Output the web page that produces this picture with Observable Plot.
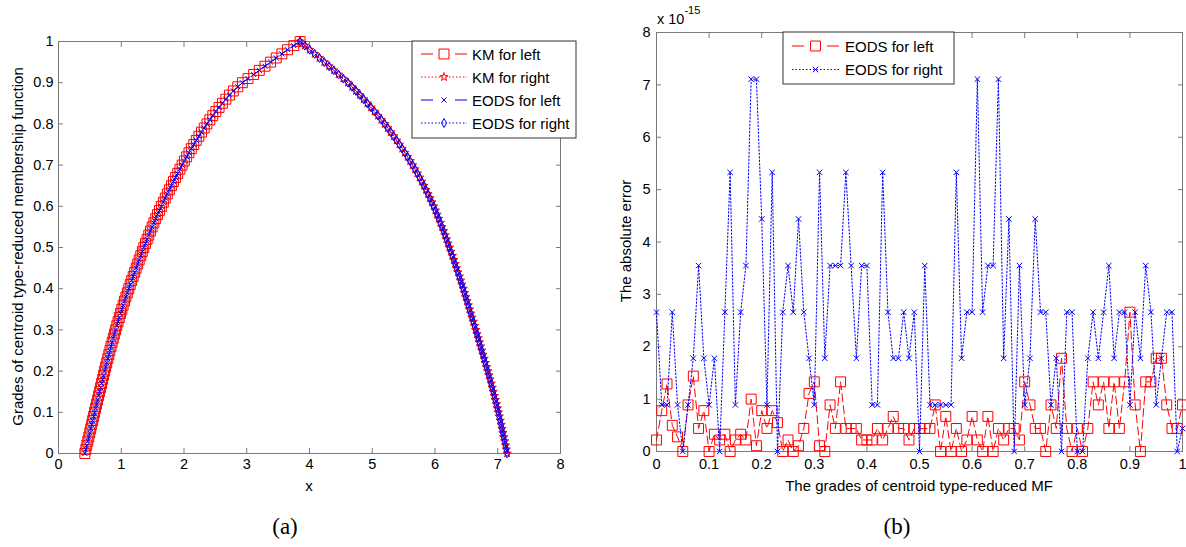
<!DOCTYPE html>
<html><head><meta charset="utf-8">
<script src="https://cdn.jsdelivr.net/npm/d3@7"></script>
<script src="https://cdn.jsdelivr.net/npm/@observablehq/plot@0.6"></script>
<style>
body{margin:0;background:#fff;}
#wrap{position:relative;width:1186px;height:547px;overflow:hidden;background:#fff;font-family:"Liberation Sans",Arial,sans-serif;}
.abs{position:absolute;top:0;}
</style></head><body><div id="wrap"></div>
<script>
// ---------- DATA ----------
const grades = [0,0.01,0.02,0.03,0.04,0.05,0.06,0.07,0.08,0.09,
0.1,0.11,0.12,0.13,0.14,0.15,0.16,0.17,0.18,0.19,
0.2,0.21,0.22,0.23,0.24,0.25,0.26,0.27,0.28,0.29,
0.3,0.31,0.32,0.33,0.34,0.35,0.36,0.37,0.38,0.39,
0.4,0.41,0.42,0.43,0.44,0.45,0.46,0.47,0.48,0.49,
0.5,0.51,0.52,0.53,0.54,0.55,0.56,0.57,0.58,0.59,
0.6,0.61,0.62,0.63,0.64,0.65,0.66,0.67,0.68,0.69,
0.7,0.71,0.72,0.73,0.74,0.75,0.76,0.77,0.78,0.79,
0.8,0.81,0.82,0.83,0.84,0.85,0.86,0.87,0.88,0.89,
0.9,0.91,0.92,0.93,0.94,0.95,0.96,0.97,0.98,0.99,1];

// (a) left end-points of the type-reduced set (x) per grade
const kmLeftX = [0.420,0.436,0.451,0.467,0.482,0.498,0.513,0.529,0.544,0.560,
0.575,0.591,0.607,0.623,0.639,0.655,0.671,0.687,0.703,0.719,
0.735,0.751,0.768,0.785,0.802,0.820,0.837,0.855,0.873,0.891,
0.910,0.929,0.949,0.969,0.989,1.009,1.030,1.052,1.074,1.097,
1.120,1.143,1.166,1.190,1.214,1.238,1.262,1.286,1.311,1.336,
1.360,1.386,1.412,1.438,1.465,1.492,1.520,1.549,1.578,1.609,
1.640,1.671,1.702,1.734,1.766,1.799,1.832,1.866,1.900,1.935,
1.970,2.006,2.042,2.079,2.117,2.156,2.196,2.237,2.279,2.322,
2.366,2.412,2.459,2.508,2.559,2.612,2.667,2.725,2.786,2.857,
2.930,3.020,3.110,3.200,3.290,3.380,3.470,3.560,3.650,3.750,
3.850];
// (a) right end-points
const kmRightX = [7.150,7.137,7.124,7.110,7.096,7.082,7.068,7.054,7.039,7.024,
7.010,6.994,6.978,6.962,6.945,6.928,6.911,6.894,6.876,6.858,
6.840,6.821,6.802,6.783,6.764,6.745,6.726,6.707,6.688,6.669,
6.650,6.630,6.610,6.590,6.570,6.550,6.530,6.510,6.490,6.470,
6.450,6.429,6.408,6.387,6.365,6.343,6.321,6.299,6.276,6.253,
6.230,6.207,6.184,6.160,6.136,6.111,6.085,6.059,6.033,6.006,
5.978,5.949,5.919,5.888,5.856,5.823,5.789,5.754,5.718,5.681,
5.643,5.603,5.562,5.520,5.477,5.433,5.388,5.342,5.295,5.247,
5.198,5.145,5.091,5.036,4.980,4.922,4.863,4.803,4.741,4.678,
4.613,4.538,4.463,4.388,4.312,4.235,4.158,4.081,4.004,3.927,
3.850];
const eodsLeftX = kmLeftX;
const eodsRightX = kmRightX;

// (b) absolute errors, in units of 1e-15
const eodsLeftErr = [0.22,0.78,1.29,0.50,0.28,0,0.89,1.44,0.44,0.78,
0,0.33,0.22,0.33,0,0.22,0.33,0.22,1.00,0.11,
0.78,0.44,0.78,0.55,0,0.22,0,0.11,0.44,1.11,
1.33,0.11,0,0.89,0.44,1.33,0.44,0.44,0.44,0.22,
0.22,0.22,0.44,0.22,0.44,0.67,0.44,0.44,0.22,0.44,
0.44,0.44,0.44,0.89,0,0.67,0,0.44,0,0.22,
0.67,0.22,0,0.67,0,0.44,0.22,0.44,0.44,0.22,
1.33,0.89,0.44,0.44,0,0.89,0.44,1.78,0.44,0,
0.44,0,0.44,1.33,0.89,1.33,0.44,1.33,0.44,1.33,
2.66,0.89,0,1.33,1.33,1.78,1.78,0.89,0.44,0.44,
0.89];
const eodsRightErr = [2.66,0.89,0.89,2.66,0.89,0,0.89,1.78,3.55,1.78,
0.89,1.78,0,2.66,5.33,0.89,2.66,3.55,7.11,7.11,
4.44,0.89,5.33,0,2.66,3.55,2.66,4.44,2.66,1.78,
0.89,5.33,1.78,3.55,3.55,3.55,5.33,3.55,1.78,3.55,
3.55,0.89,0.89,5.33,2.66,1.78,1.78,2.66,1.78,2.66,
0,3.55,0.89,0.89,0.89,0.89,0.89,5.33,1.78,2.66,
2.66,7.11,2.66,3.55,3.55,7.11,1.78,4.44,0,3.55,
0.89,1.78,4.44,2.66,2.66,0.89,1.78,0,2.66,2.66,
0,0,1.78,2.66,1.78,2.66,3.55,1.78,2.66,2.66,
0.89,2.66,1.78,3.55,2.66,0.89,1.78,2.66,2.66,0,
0.44];

const xTicksA = [0,1,2,3,4,5,6,7,8];
const yTicksA = [0,0.1,0.2,0.3,0.4,0.5,0.6,0.7,0.8,0.9,1];
const xTicksB = [0,0.1,0.2,0.3,0.4,0.5,0.6,0.7,0.8,0.9,1];
const yTicksB = [0,1,2,3,4,5,6,7,8];

const legendA = ["KM for left","KM for right","EODS for left","EODS for right"];
const legendB = ["EODS for left","EODS for right"];
const labelsA = {x:"x", y:"Grades of centroid type-reduced membership function", tag:"(a)"};
const labelsB = {x:"The grades of centroid type-reduced MF", y:"The absolute error", tag:"(b)"};

// ---------- BUILD ----------
const RED = "#ff0000", BLUE = "#0000ff";
const DASH = "8,4", DOT = "1.5,2";
const FONT = "'Liberation Sans', Arial, sans-serif";
const fmt = d => String(+d.toFixed(2));
const style = {fontFamily: FONT, fontSize: "14.5px", background: "transparent", overflow: "visible", color: "black"};
const AX = "#7a7a7a";

const rows = (xs, ys) => xs.map((x, i) => ({x, y: ys[i]}));
const kmL = rows(kmLeftX, grades), kmR = rows(kmRightX, grades);
const eoL = rows(eodsLeftX, grades), eoR = rows(eodsRightX, grades);
const errL = rows(grades, eodsLeftErr), errR = rows(grades, eodsRightErr);

function axes(xt, yt, pad) {
  return [
    Plot.frame({stroke: AX}),
    Plot.axisX(xt, {anchor: "bottom", tickSize: -5, tickPadding: 5 + pad.x, tickFormat: fmt, label: null, stroke: AX, fill: "black"}),
    Plot.axisX(xt, {anchor: "top", tickSize: -5, tickPadding: 0, tickFormat: () => "", label: null, stroke: AX}),
    Plot.axisY(yt, {anchor: "left", tickSize: -5, tickPadding: 5 + pad.y, tickFormat: fmt, label: null, stroke: AX, fill: "black"}),
    Plot.axisY(yt, {anchor: "right", tickSize: -5, tickPadding: 0, tickFormat: () => "", label: null, stroke: AX})
  ];
}

const plotA = Plot.plot({
  width: 590, height: 547,
  marginLeft: 58, marginRight: 30, marginTop: 41, marginBottom: 94,
  x: {domain: [0, 8]}, y: {domain: [0, 1]},
  style,
  marks: [
    ...axes(xTicksA, yTicksA, {x: 5, y: 5}),
    Plot.line(kmL, {x: "x", y: "y", stroke: RED, strokeDasharray: DASH, strokeWidth: 1}),
    Plot.dot(kmL, {x: "x", y: "y", symbol: "square", r: 5.6, stroke: RED, fill: "none", strokeWidth: 1}),
    Plot.line(kmR, {x: "x", y: "y", stroke: RED, strokeDasharray: DOT, strokeWidth: 1}),
    Plot.dot(kmR, {x: "x", y: "y", symbol: "star", r: 2.6, stroke: RED, fill: "none", strokeWidth: 1}),
    Plot.line(eoL, {x: "x", y: "y", stroke: BLUE, strokeDasharray: DASH, strokeWidth: 1}),
    Plot.dot(eoL, {x: "x", y: "y", symbol: "times", r: 2.4, stroke: BLUE, strokeWidth: 1}),
    Plot.line(eoR, {x: "x", y: "y", stroke: BLUE, strokeDasharray: DOT, strokeWidth: 1}),
    Plot.dot(eoR, {x: "x", y: "y", symbol: "diamond", r: 2.7, stroke: BLUE, fill: "none", strokeWidth: 1})
  ]
});

const plotB = Plot.plot({
  width: 596, height: 547,
  marginLeft: 66, marginRight: 4, marginTop: 32, marginBottom: 96,
  x: {domain: [0, 1]}, y: {domain: [0, 8]},
  style,
  marks: [
    ...axes(xTicksB, yTicksB, {x: 7, y: 6}),
    Plot.line(errL, {x: "x", y: "y", stroke: RED, strokeDasharray: DASH, strokeWidth: 1}),
    Plot.dot(errL, {x: "x", y: "y", symbol: "square", r: 5.6, stroke: RED, fill: "none", strokeWidth: 1}),
    Plot.line(errR, {x: "x", y: "y", stroke: BLUE, strokeDasharray: DOT, strokeWidth: 1}),
    Plot.dot(errR, {x: "x", y: "y", symbol: "times", r: 2.6, stroke: BLUE, strokeWidth: 1})
  ]
});

const wrap = document.getElementById("wrap");
function place(node, left, w) {
  const d = document.createElement("div");
  d.className = "abs"; d.style.left = left + "px"; d.style.width = w + "px"; d.style.height = "547px";
  d.appendChild(node); wrap.appendChild(d);
}
place(plotA, 0, 590);
place(plotB, 590, 596);

// ---------- OVERLAY: labels & legends ----------
const svg = d3.create("svg").attr("width", 1186).attr("height", 547)
  .style("position", "absolute").style("left", 0).style("top", 0)
  .style("font-family", FONT);

function label(x, y, text, size, rot, family) {
  svg.append("text").attr("transform", `translate(${x},${y}) rotate(${rot || 0})`)
    .attr("text-anchor", "middle").attr("dominant-baseline", "central")
    .attr("font-size", size).attr("font-family", family || FONT).attr("fill", "black").text(text);
}
label(17.5, 246.5, labelsA.y, 15, -90);
label(309, 485, labelsA.x, 15);
label(285, 526, labelsA.tag, 23, 0, "'Liberation Serif', 'DejaVu Serif', serif");
label(625, 241, labelsB.y, 15, -90);
label(919, 485, labelsB.x, 15);
label(897, 526, labelsB.tag, 23, 0, "'Liberation Serif', 'DejaVu Serif', serif");

const exp = svg.append("text").attr("x", 657).attr("y", 24).attr("font-size", 14.5).attr("fill", "black");
exp.append("tspan").text("x 10");
exp.append("tspan").attr("font-size", 11).attr("dy", -10).text("-15");

const sym = (type, r) => d3.symbol().type(type).size(Math.PI * r * r)();
function legend(box, items) {
  svg.append("rect").attr("x", box.x).attr("y", box.y).attr("width", box.w).attr("height", box.h)
    .attr("fill", "white").attr("stroke", "#333").attr("stroke-width", 1);
  items.forEach((it, i) => {
    const y = box.row0 + i * box.dy;
    const g = svg.append("g");
    if (it.dash === DASH) {
      g.append("line").attr("x1", box.lx).attr("x2", box.lx + 12).attr("y1", y).attr("y2", y).attr("stroke", it.color);
      g.append("line").attr("x1", box.lx + box.lw - 12).attr("x2", box.lx + box.lw).attr("y1", y).attr("y2", y).attr("stroke", it.color);
    } else {
      g.append("line").attr("x1", box.lx).attr("x2", box.lx + box.lw).attr("y1", y).attr("y2", y)
        .attr("stroke", it.color).attr("stroke-dasharray", DOT);
    }
    g.append("path").attr("d", sym(it.type, it.r)).attr("transform", `translate(${box.lx + box.lw / 2},${y})`)
      .attr("fill", "none").attr("stroke", it.color);
    svg.append("text").attr("x", box.tx).attr("y", y).attr("dominant-baseline", "central")
      .attr("font-size", 15).attr("fill", "black").text(it.text);
  });
}
legend({x: 412, y: 41, w: 164, h: 97, row0: 54, dy: 23, lx: 421, lw: 46, tx: 472}, [
  {text: legendA[0], color: RED, dash: DASH, type: d3.symbolSquare, r: 5.6},
  {text: legendA[1], color: RED, dash: DOT, type: d3.symbolStar, r: 2.6},
  {text: legendA[2], color: BLUE, dash: DASH, type: d3.symbolTimes, r: 2.4},
  {text: legendA[3], color: BLUE, dash: DOT, type: d3.symbolDiamond, r: 2.7}
]);
legend({x: 783, y: 32, w: 171, h: 52, row0: 46, dy: 23.5, lx: 792, lw: 47, tx: 845}, [
  {text: legendB[0], color: RED, dash: DASH, type: d3.symbolSquare, r: 5.6},
  {text: legendB[1], color: BLUE, dash: DOT, type: d3.symbolTimes, r: 2.6}
]);
wrap.appendChild(svg.node());
</script></body></html>
